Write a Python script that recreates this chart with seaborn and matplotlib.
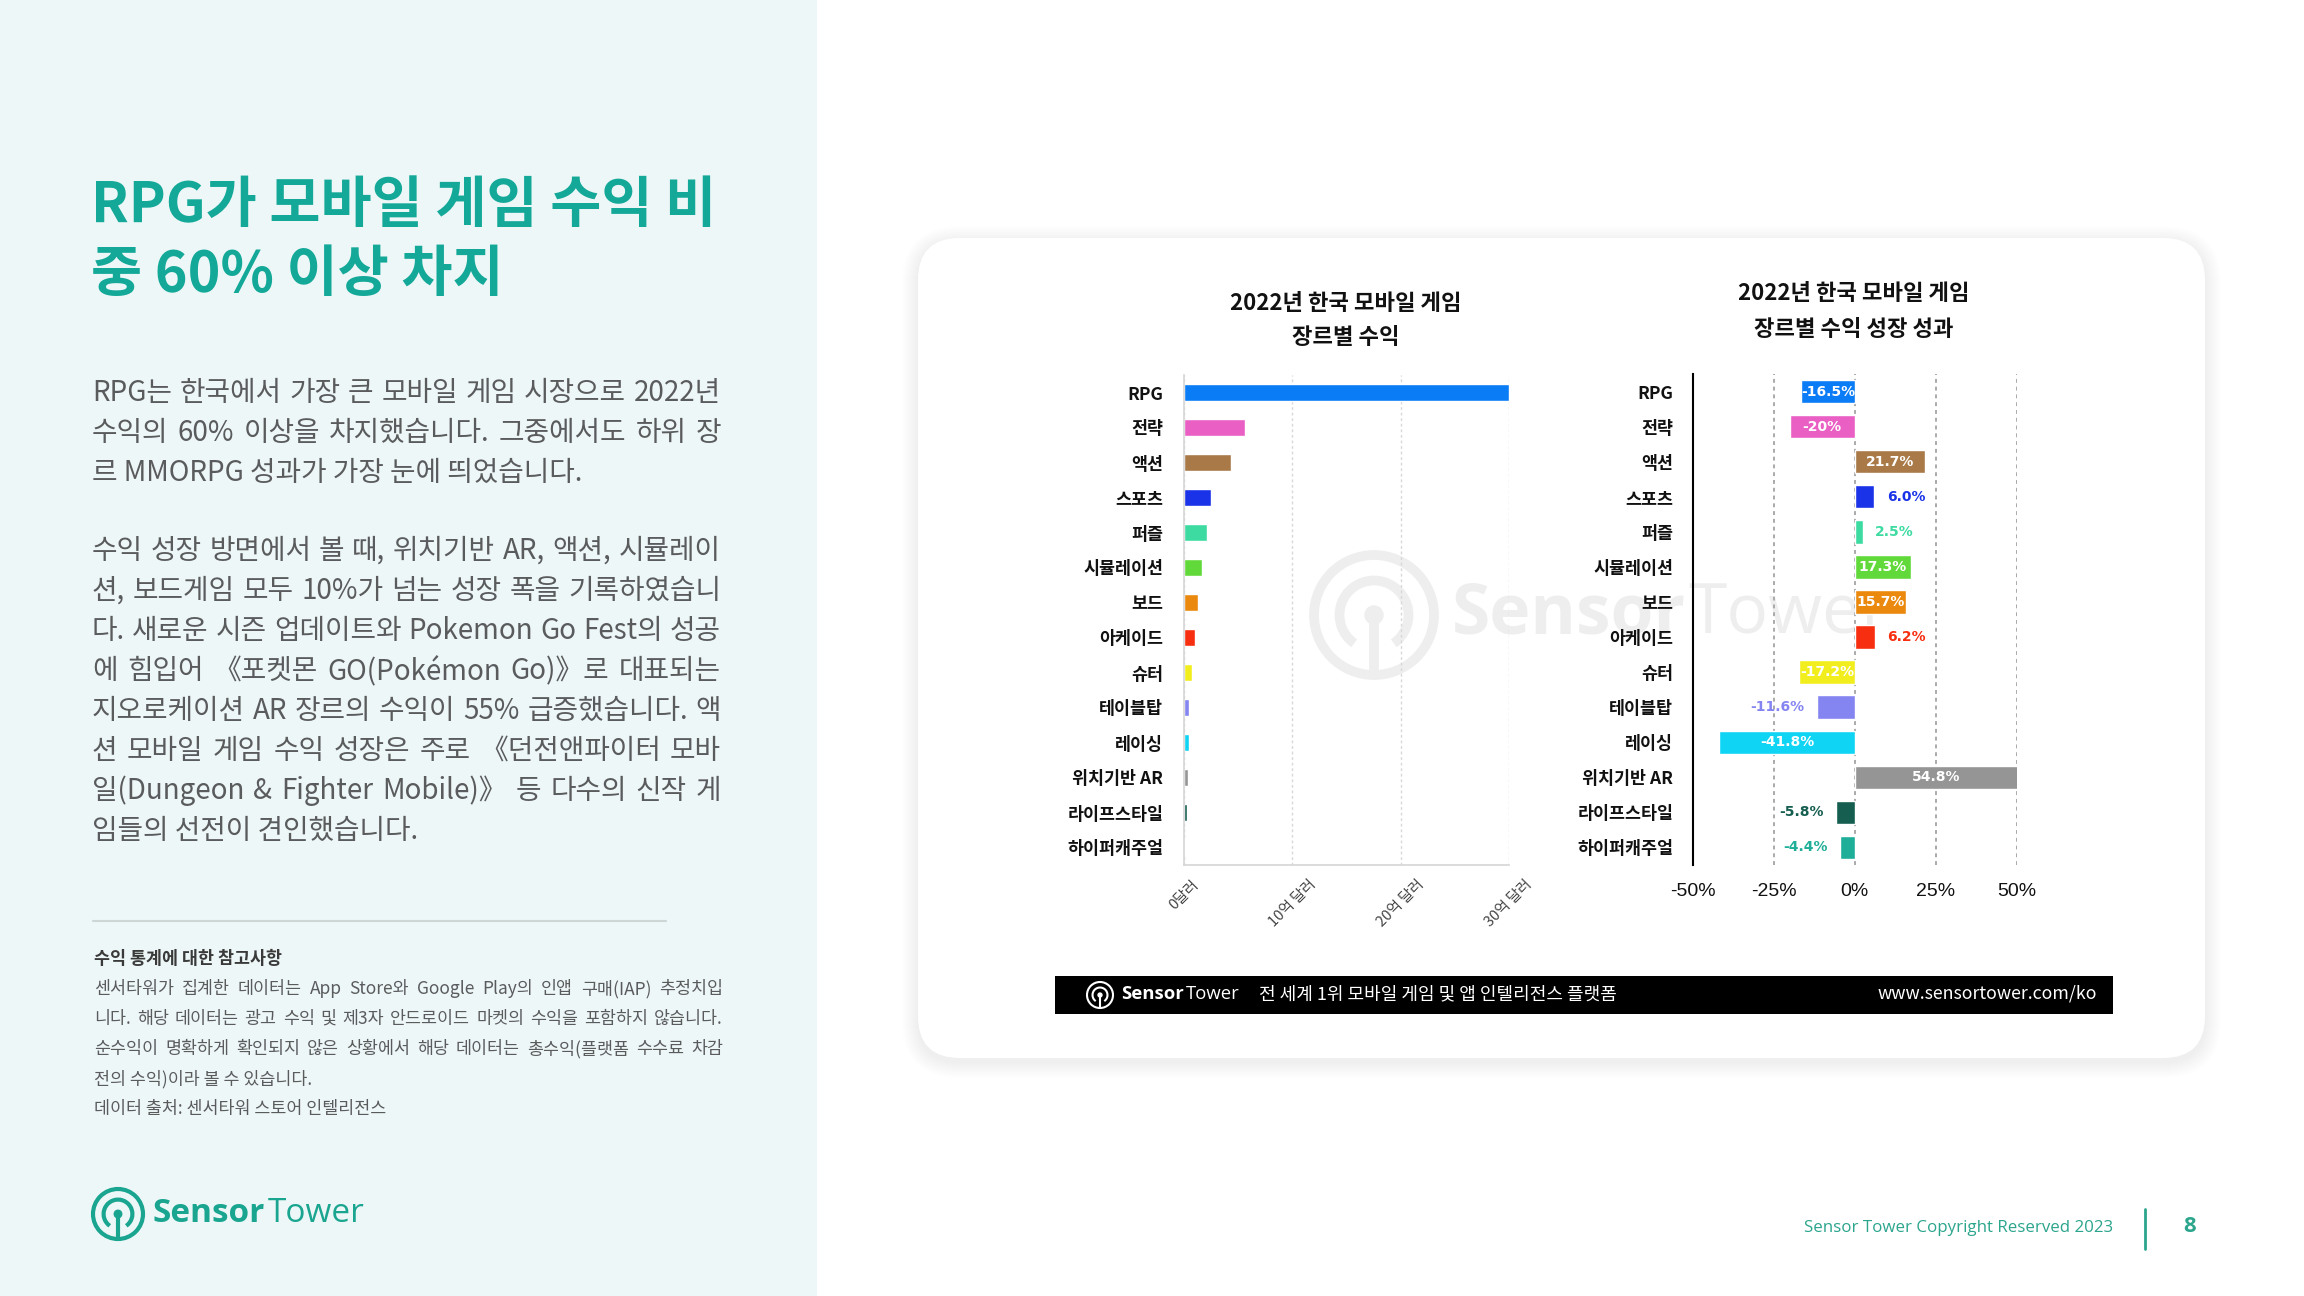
import matplotlib
matplotlib.use("Agg")
from matplotlib import pyplot as plt
from matplotlib.patches import Rectangle, FancyBboxPatch, Circle, Arc
import seaborn as sns

# data (revenue in 억 달러, growth in %)
genres = ["RPG", "전략", "액션", "스포츠", "퍼즐", "시뮬레이션", "보드", "아케이드",
          "슈터", "테이블탑", "레이싱", "위치기반 AR", "라이프스타일", "하이퍼캐주얼"]
revenue = [30.0, 5.6, 4.3, 2.5, 2.1, 1.7, 1.25, 1.05, 0.7, 0.42, 0.42, 0.33, 0.24, 0.05]
growth = [-16.5, -20.0, 21.7, 6.0, 2.5, 17.3, 15.7, 6.2, -17.2, -11.6, -41.8, 54.8, -5.8, -4.4]
growth_labels = ["-16.5%", "-20%", "21.7%", "6.0%", "2.5%", "17.3%", "15.7%", "6.2%",
                 "-17.2%", "-11.6%", "-41.8%", "54.8%", "-5.8%", "-4.4%"]
colors = ["#0a7cf6", "#ea5fc4", "#a97947", "#1b33e8", "#3ddba2", "#62d93a", "#ea890d",
          "#f72f10", "#f2ee1e", "#8585f2", "#0fd4f4", "#959595", "#155e50", "#1fae98"]
revenue_ticks = [0, 10, 20, 30]
revenue_ticklabels = ["0달러", "10억 달러", "20억 달러", "30억 달러"]
growth_ticks = [-50, -25, 0, 25, 50]
growth_ticklabels = ["-50%", "-25%", "0%", "25%", "50%"]

title = ["RPG가 모바일 게임 수익 비", "중 60% 이상 차지"]
para1 = ["RPG는 한국에서 가장 큰 모바일 게임 시장으로 2022년",
         "수익의 60% 이상을 차지했습니다. 그중에서도 하위 장",
         "르 MMORPG 성과가 가장 눈에 띄었습니다."]
para2 = ["수익 성장 방면에서 볼 때, 위치기반 AR, 액션, 시뮬레이",
         "션, 보드게임 모두 10%가 넘는 성장 폭을 기록하였습니",
         "다. 새로운 시즌 업데이트와 Pokemon Go Fest의 성공",
         "에 힘입어 《포켓몬 GO(Pokémon Go)》로 대표되는",
         "지오로케이션 AR 장르의 수익이 55% 급증했습니다. 액",
         "션 모바일 게임 수익 성장은 주로 《던전앤파이터 모바",
         "일(Dungeon & Fighter Mobile)》 등 다수의 신작 게",
         "임들의 선전이 견인했습니다."]
note_head = "수익 통계에 대한 참고사항"
notes = ["센서타워가 집계한 데이터는 App Store와 Google Play의 인앱 구매(IAP) 추정치입",
         "니다. 해당 데이터는 광고 수익 및 제3자 안드로이드 마켓의 수익을 포함하지 않습니다.",
         "순수익이 명확하게 확인되지 않은 상황에서 해당 데이터는 총수익(플랫폼 수수료 차감",
         "전의 수익)이라 볼 수 있습니다."]
note_src = "데이터 출처: 센서타워 스토어 인텔리전스"

sns.set_style("white")
plt.rcParams["font.family"] = ["Noto Sans CJK KR", "DejaVu Sans"]

W, H = 2304, 1296
fig = plt.figure(figsize=(W / 100, H / 100), dpi=100, facecolor="white")
renderer = fig.canvas.get_renderer()

bg = fig.add_axes([0, 0, 1, 1], zorder=0)
bg.set_xlim(0, W)
bg.set_ylim(H, 0)
bg.axis("off")

TEAL = "#13a898"
GRAY = "#5a5b5d"


def put(x, y, s, **kw):
    kw.setdefault("va", "center")
    return bg.text(x, y, s, **kw)


def width_of(t):
    return t.get_window_extent(renderer=renderer).width


def justify(x0, x1, y, s, **kw):
    words = s.split(" ")
    texts = [put(0, y, w, **kw) for w in words]
    widths = [width_of(t) for t in texts]
    gap = (x1 - x0 - sum(widths)) / max(len(words) - 1, 1)
    gap = max(gap, 3)
    x = x0
    for t, w in zip(texts, widths):
        t.set_x(x)
        x += w + gap


def logo(cx, cy, r, color, lw):
    bg.add_patch(Circle((cx, cy), r, fill=False, ec=color, lw=lw))
    bg.add_patch(Arc((cx, cy), 1.15 * r, 1.15 * r, theta1=125, theta2=415, ec=color, lw=lw))
    bg.plot([cx, cx], [cy, cy + r], color=color, lw=lw, solid_capstyle="butt")
    bg.add_patch(Circle((cx, cy), 0.15 * r, color=color))


def wordmark(x, y, size, color, family="Open Sans"):
    t = put(x, y, "Sensor", fontsize=size, color=color, fontweight="bold", family=family)
    put(x + width_of(t) + 2, y, "Tower", fontsize=size, color=color, family=family)


# left panel
bg.add_patch(Rectangle((0, 0), 817, H, color="#eef7f7", lw=0))
for i, line in enumerate(title):
    put(91, 206 + i * 69, line, fontsize=40, fontweight="bold", color=TEAL)
for i, line in enumerate(para1):
    if i < len(para1) - 1:
        justify(92, 721, 393 + i * 40, line, fontsize=20, color=GRAY)
    else:
        put(92, 393 + i * 40, line, fontsize=20, color=GRAY)
for i, line in enumerate(para2):
    if i < len(para2) - 1:
        justify(92, 721, 551 + i * 40, line, fontsize=20, color=GRAY)
    else:
        put(92, 551 + i * 40, line, fontsize=20, color=GRAY)
bg.plot([93, 666], [921, 921], color="#cdd5d5", lw=1.5)
put(94, 959, note_head, fontsize=12.5, fontweight="bold", color="#3a3a3a")
for i, line in enumerate(notes):
    if i < 3:
        justify(94, 723, 989 + i * 30, line, fontsize=12.5, color=GRAY)
    else:
        put(94, 989 + i * 30, line, fontsize=12.5, color=GRAY)
put(94, 1109, note_src, fontsize=12.5, color=GRAY)
logo(118, 1214, 25, "#1aa590", 3)
wordmark(153, 1213, 24, "#1aa590")

# card with soft shadow
cx0, cy0, cw, ch = 918, 238, 1287, 820
for i in range(16, 0, -1):
    bg.add_patch(FancyBboxPatch((cx0 - i, cy0 - i + 4), cw + 2 * i, ch + 2 * i,
                                boxstyle=f"round,pad=0,rounding_size={42 + i}",
                                color="black", alpha=0.005, lw=0))
bg.add_patch(FancyBboxPatch((cx0, cy0), cw, ch, boxstyle="round,pad=0,rounding_size=42",
                            color="white", lw=0))

# watermark
logo(1374, 615, 60, "#eeeeee", 7)
wordmark(1452, 615, 50, "#eeeeee")

# chart titles
put(1346, 303, "2022년 한국 모바일 게임", ha="center", fontsize=16, fontweight="bold", color="#111111")
put(1346, 338, "장르별 수익", ha="center", fontsize=16, fontweight="bold", color="#111111")
put(1854, 294, "2022년 한국 모바일 게임", ha="center", fontsize=16, fontweight="bold", color="#111111")
put(1854, 329, "장르별 수익 성장 성과", ha="center", fontsize=16, fontweight="bold", color="#111111")


def px_axes(x0, y0, x1, y1):
    return fig.add_axes([x0 / W, 1 - y1 / H, (x1 - x0) / W, (y1 - y0) / H], zorder=2)


palette = dict(zip(genres, colors))

# revenue chart
ax1 = px_axes(1184, 375, 1509, 865)
ax1.set_facecolor("none")
sns.barplot(x=revenue, y=genres, hue=genres, palette=palette, orient="h", width=0.5,
            saturation=1, legend=False, ax=ax1)
ax1.set_xlim(0, 30)
ax1.set_xticks(revenue_ticks)
ax1.set_xticklabels(revenue_ticklabels, rotation=45, ha="center", fontsize=10.5, color="#444444")
ax1.set_yticks(range(len(genres)))
ax1.set_yticklabels(genres, fontsize=12.5, fontweight="bold", color="#111111")
ax1.set_yticks([i - 0.5 for i in range(len(genres))], minor=True)
ax1.tick_params(axis="y", which="major", length=0, pad=15)
ax1.tick_params(axis="y", which="minor", length=4, width=1, color="#d6d6d6")
ax1.tick_params(axis="x", length=0, pad=9)
ax1.grid(axis="x", color="#d8d8d8", linestyle=(0, (2, 2)), lw=1)
ax1.set_axisbelow(True)
for s in ["top", "right"]:
    ax1.spines[s].set_visible(False)
for s in ["left", "bottom"]:
    ax1.spines[s].set_color("#d6d6d6")
    ax1.spines[s].set_linewidth(1.2)
ax1.set_xlabel("")
ax1.set_ylabel("")

# growth chart
ax2 = px_axes(1692.7, 374, 2016.7, 865)
ax2.set_facecolor("none")
sns.barplot(x=growth, y=genres, hue=genres, palette=palette, orient="h", width=0.67,
            saturation=1, legend=False, ax=ax2)
ax2.set_xlim(-50, 50)
ax2.set_xticks(growth_ticks)
ax2.set_xticklabels(growth_ticklabels, fontsize=14, color="#111111", family="Liberation Sans")
ax2.set_yticks(range(len(genres)))
ax2.set_yticklabels(genres, fontsize=12.5, fontweight="bold", color="#111111")
ax2.tick_params(axis="y", length=0, pad=14)
ax2.tick_params(axis="x", length=0, pad=13)
ax2.grid(axis="x", color="#aaaaaa", linestyle=(0, (2, 2)), lw=1.4)
ax2.set_axisbelow(True)
for s in ["top", "right", "bottom"]:
    ax2.spines[s].set_visible(False)
ax2.spines["left"].set_color("black")
ax2.spines["left"].set_linewidth(1.5)
ax2.set_xlabel("")
ax2.set_ylabel("")

for i, (v, lab, c) in enumerate(zip(growth, growth_labels, colors)):
    if abs(v) > 12:
        vis = max(min(v, 50), -50)
        ax2.text(vis / 2, i, lab, ha="center", va="center", fontsize=10,
                 fontweight="bold", color="white", family="DejaVu Sans")
    else:
        ax2.annotate(lab, (v, i), xytext=(9 if v > 0 else -9, 0), textcoords="offset points",
                     ha="left" if v > 0 else "right", va="center", fontsize=10,
                     fontweight="bold", color=c, family="DejaVu Sans")

# footer bar inside card
bg.add_patch(Rectangle((1055, 976), 1058, 38, color="black", lw=0))
logo(1100, 995, 13, "white", 1.5)
wordmark(1121, 994, 13.3, "white")
put(1259, 994, "전 세계 1위 모바일 게임 및 앱 인텔리전스 플랫폼", fontsize=13, color="white")
put(2097, 994, "www.sensortower.com/ko", ha="right", fontsize=12.8, color="white")

# page footer
put(2113, 1228, "Sensor Tower Copyright Reserved 2023", ha="right", fontsize=12.2,
    color="#2ca58d", family="Open Sans")
bg.plot([2145, 2145], [1209, 1249], color="#2ca58d", lw=2)
put(2190, 1226, "8", ha="center", fontsize=16, fontweight="bold", color="#2ca58d",
    family="Open Sans")

fig.savefig("out.png", dpi=100, facecolor="white")
